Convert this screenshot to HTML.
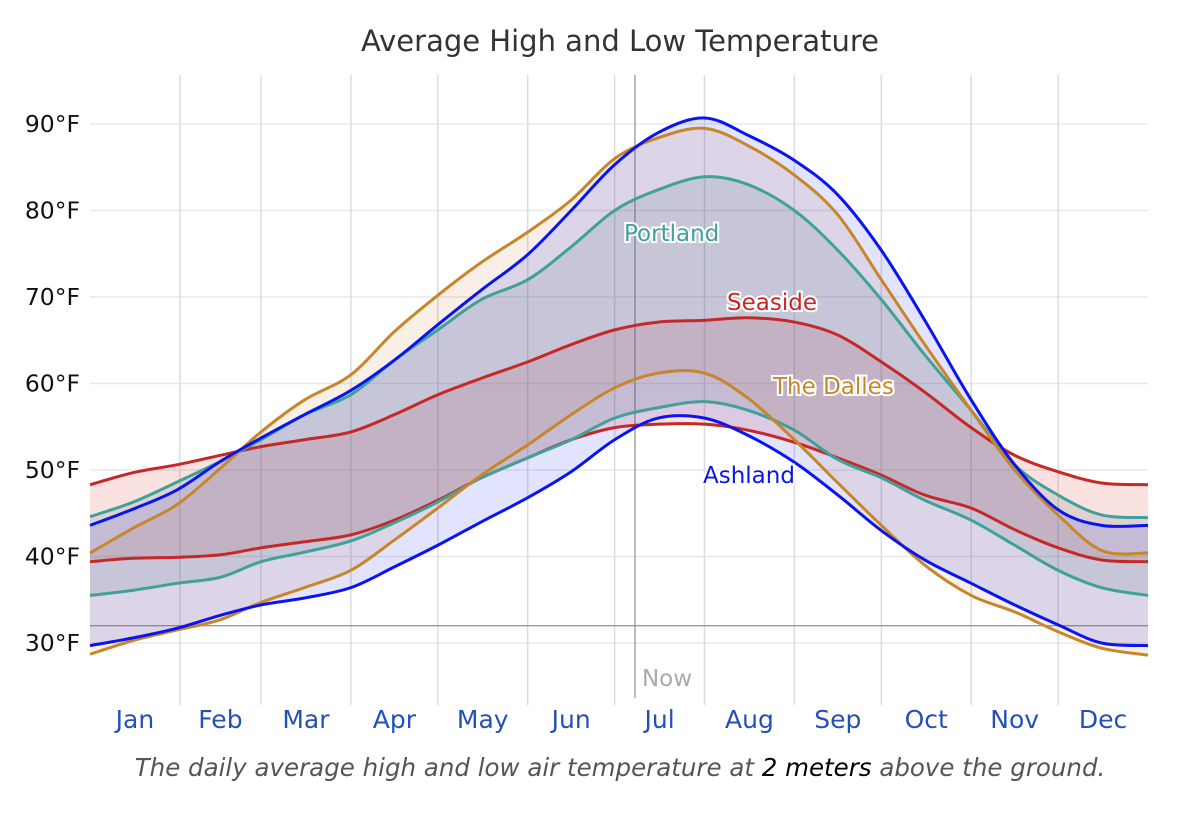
<!DOCTYPE html>
<html><head><meta charset="utf-8"><style>
body{margin:0;background:#fff;}
svg{display:block;font-family:"DejaVu Sans","Liberation Sans",sans-serif;}
</style></head><body>
<svg id="chart" width="1204" height="820">
<text x="620" y="51" text-anchor="middle" font-size="29" fill="#333">Average High and Low Temperature</text>
<g id="grid"></g><g id="fills"></g><g id="lines"></g><g id="labels"></g>
<text x="620" y="776" text-anchor="middle" font-size="24.5" font-style="italic" fill="#555">The daily average high and low air temperature at <tspan fill="#000">2 meters</tspan> above the ground.</text>
</svg>
<script>
const days=[0,15,30,45,59,74,90,105,120,135,151,166,181,196,212,227,243,258,273,288,304,319,334,349,365];
const ashHigh=[43.6,45.5,47.7,51,53.7,56.4,59.2,62.7,66.8,70.8,74.9,80,85.3,89,90.7,88.7,85.8,81.8,75.4,67.3,58.1,50.6,45.4,43.6,43.6];
const ashLow=[29.7,30.6,31.7,33.2,34.4,35.2,36.4,38.8,41.3,44,46.8,49.8,53.5,56,56,54,50.9,47.1,43,39.6,36.9,34.4,32.1,30,29.7];
const dalHigh=[40.4,43.3,46,50.2,54.4,58.1,61,66,70.2,74,77.5,81.2,86,88.4,89.5,87.5,84.1,79.5,72,64.5,56.9,50,44.8,40.7,40.4];
const dalLow=[28.7,30.3,31.5,32.7,34.7,36.4,38.4,41.9,45.6,49.4,52.9,56.4,59.5,61.2,61.2,58.3,53.5,48.5,43.6,39,35.5,33.6,31.3,29.4,28.6];
const porHigh=[44.6,46.3,48.6,51,53.5,56.4,58.7,62.7,66.2,69.7,72,75.8,80,82.4,83.9,83,80,75.4,69.7,63.3,56.9,50.6,47.1,44.8,44.5];
const porLow=[35.5,36.1,36.9,37.6,39.4,40.5,41.8,43.9,46.3,49.1,51.4,53.5,56,57.2,57.9,56.9,54.6,51.2,49.1,46.5,44.2,41.3,38.4,36.4,35.5];
const seaHigh=[48.3,49.7,50.6,51.7,52.7,53.5,54.4,56.4,58.7,60.6,62.5,64.5,66.2,67.1,67.3,67.6,67.1,65.6,62.5,59,54.9,51.7,49.8,48.5,48.3];
const seaLow=[39.4,39.8,39.9,40.2,41,41.7,42.5,44.2,46.5,49.1,51.4,53.5,54.9,55.3,55.3,54.6,53.2,51.4,49.4,47.1,45.6,43.1,41,39.6,39.4];
const months=["Jan","Feb","Mar","Apr","May","Jun","Jul","Aug","Sep","Oct","Nov","Dec"];
const monthStarts=[0,31,59,90,120,151,181,212,243,273,304,334,365];
const yTicks=[30,40,50,60,70,80,90];
const nowDay=188, freezing=32;
const X=d=>90+d/365*1058, Y=t=>643-(t-30)*8.65;
const NS="http://www.w3.org/2000/svg";
function mk(tag,attrs,parent){const e=document.createElementNS(NS,tag);for(const k in attrs)e.setAttribute(k,attrs[k]);parent.appendChild(e);return e;}
function seg(p){let s="";for(let i=0;i<p.length-1;i++){const a=p[Math.max(i-1,0)],b=p[i],c=p[i+1],d=p[Math.min(i+2,p.length-1)];
s+=` C${b[0]+(c[0]-a[0])/6},${b[1]+(c[1]-a[1])/6} ${c[0]-(d[0]-b[0])/6},${c[1]-(d[1]-b[1])/6} ${c[0]},${c[1]}`;}return s;}
function curve(vals){const p=days.map((d,i)=>[X(d),Y(vals[i])]);return "M"+p[0][0]+","+p[0][1]+seg(p);}
function revCurve(vals){const p=days.map((d,i)=>[X(d),Y(vals[i])]).reverse();return "L"+p[0][0]+","+p[0][1]+seg(p)+"Z";}
const grid=document.getElementById('grid');
yTicks.forEach(t=>{
 const l=mk('line',{x1:90,x2:1148,y1:Y(t),y2:Y(t),stroke:'#e8e8e8','stroke-width':1.5},grid);
 
 
 const tx=mk('text',{x:80,y:Y(t)+8,'text-anchor':'end','font-size':23.5,fill:'#111'},grid);tx.textContent=t+"°F";
 
 
});
monthStarts.slice(1,12).forEach(d=>{
 const l=mk('line',{x1:X(d),x2:X(d),y1:75,y2:705,stroke:'#dcdcdc','stroke-width':1.5},grid);
 
 
});
months.forEach((m,i)=>{
 const tx=mk('text',{x:X((monthStarts[i]+monthStarts[i+1])/2),y:728,'text-anchor':'middle','font-size':25,fill:'#2550b8'},grid);tx.textContent=m;
 
 
});
const fz=mk('line',{x1:90,x2:1148,y1:Y(freezing),y2:Y(freezing),stroke:'#999','stroke-width':1.3},grid);


const nl=mk('line',{x1:X(nowDay),x2:X(nowDay),y1:75,y2:698,stroke:'#999','stroke-width':1.3},grid);


const nt=mk('text',{x:X(nowDay)+7,y:686,'font-size':23,fill:'#aaa'},grid);nt.textContent="Now";


const series=[
 {n:'seaside',hi:seaHigh,lo:seaLow,c:'#c62828',f:'rgba(220,60,50,0.15)',lab:'Seaside',lx:727,ly:310},
 {n:'portland',hi:porHigh,lo:porLow,c:'#40a09a',f:'rgba(40,110,110,0.13)',lab:'Portland',lx:624,ly:241},
 {n:'the-dalles',hi:dalHigh,lo:dalLow,c:'#c8862a',f:'rgba(200,130,60,0.13)',lab:'The Dalles',lx:773,ly:394},
 {n:'ashland',hi:ashHigh,lo:ashLow,c:'#0a14ee',f:'rgba(30,40,240,0.13)',lab:'Ashland',lx:703,ly:483}];
const fills=document.getElementById('fills'),lines=document.getElementById('lines'),labels=document.getElementById('labels');
series.forEach(s=>{
 const a=mk('path',{d:curve(s.hi)+revCurve(s.lo),fill:s.f,stroke:'none'},fills);
 
 
});
series.forEach(s=>{
 const h=mk('path',{d:curve(s.hi),fill:'none',stroke:s.c,'stroke-width':3},lines);
 
 
 const l=mk('path',{d:curve(s.lo),fill:'none',stroke:s.c,'stroke-width':3},lines);
 
 
 const t=mk('text',{x:s.lx,y:s.ly,'font-size':23,fill:s.c,stroke:'#fff','stroke-width':4,'paint-order':'stroke'},labels);t.textContent=s.lab;
 
 
});
</script>
</body></html>
